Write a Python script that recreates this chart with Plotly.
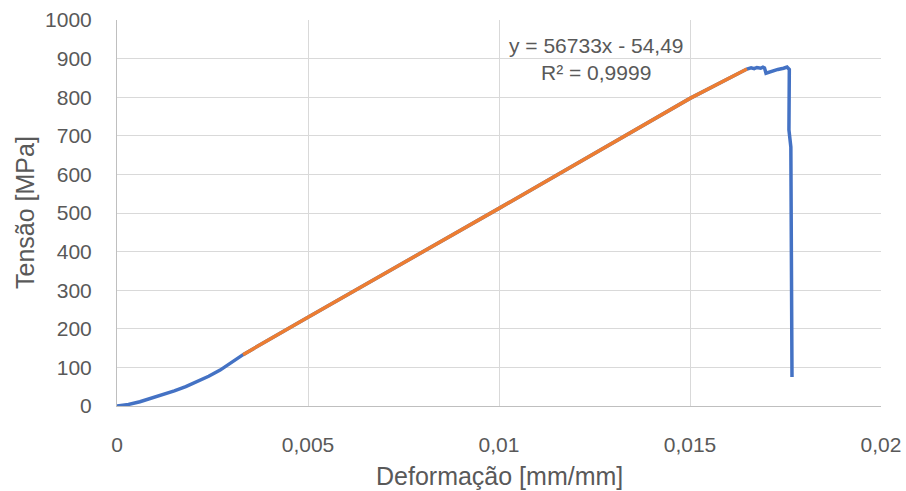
import plotly.graph_objects as go

# Full measured curve (blue)
strain = [0.0, 0.0003, 0.0006, 0.0009, 0.0012, 0.0015, 0.0018, 0.0021, 0.0024, 0.0027, 0.0030, 0.0033,
          0.0050, 0.0100, 0.0150, 0.01649, 0.01660, 0.01668, 0.01675, 0.01685, 0.01691, 0.01695,
          0.01699, 0.01710, 0.01730, 0.01745, 0.01754, 0.01760, 0.01759, 0.01764, 0.01767]
stress = [0.0, 4, 11, 20, 29, 39, 50, 63, 77, 93, 112, 133,
          230, 512, 797, 873, 876, 874, 877, 875, 878, 876,
          862, 866, 872, 875, 878, 872, 715, 671, 75]

# Linear-fit region (orange)
lin_strain = [0.0033, 0.0050, 0.0100, 0.0150, 0.01649]
lin_stress = [133, 230, 512, 797, 873]

xticks = [0, 0.005, 0.01, 0.015, 0.02]
xticklabels = ["0", "0,005", "0,01", "0,015", "0,02"]
yticks = [0, 100, 200, 300, 400, 500, 600, 700, 800, 900, 1000]
yticklabels = [str(v) for v in yticks]

eq_text = "y = 56733x - 54,49"
r2_text = "R² = 0,9999"
x_title = "Deformação [mm/mm]"
y_title = "Tensão [MPa]"

TXT = "#595959"
fig = go.Figure()
fig.add_trace(go.Scatter(x=strain, y=stress, mode="lines",
                         line=dict(color="#4472C4", width=3.5), showlegend=False))
fig.add_trace(go.Scatter(x=lin_strain, y=lin_stress, mode="lines",
                         line=dict(color="#ED7D31", width=3.5), showlegend=False))

font_family = "Liberation Sans, Arial, sans-serif"
fig.update_layout(
    width=906, height=491,
    margin=dict(l=117, r=25, t=20, b=85),
    paper_bgcolor="white", plot_bgcolor="white",
    font=dict(family=font_family, color=TXT, size=21),
    xaxis=dict(range=[0, 0.02], tickvals=xticks, ticktext=xticklabels,
               showgrid=True, gridcolor="#D9D9D9", gridwidth=1,
               showline=True, linecolor="#BFBFBF", linewidth=1,
               zeroline=False, ticks="", automargin=False, ticklabelstandoff=20,
               tickfont=dict(size=21, color=TXT)),
    yaxis=dict(range=[0, 1000], tickvals=yticks, ticktext=yticklabels,
               showgrid=True, gridcolor="#D9D9D9", gridwidth=1,
               showline=True, linecolor="#BFBFBF", linewidth=1,
               zeroline=False, ticks="", automargin=False, ticklabelstandoff=20,
               tickfont=dict(size=21, color=TXT)),
)
fig.add_annotation(x=0.01254, y=935, text=eq_text, showarrow=False,
                   font=dict(size=21, color=TXT), xanchor="center", yanchor="middle")
fig.add_annotation(x=0.01254, y=863, text=r2_text, showarrow=False,
                   font=dict(size=21, color=TXT), xanchor="center", yanchor="middle")
fig.add_annotation(x=0.5, y=0, xref="paper", yref="paper", text=x_title, showarrow=False,
                   font=dict(size=25, color=TXT), xanchor="center", yanchor="middle", yshift=-70)
fig.add_annotation(x=0, y=0.5, xref="paper", yref="paper", text=y_title, showarrow=False,
                   font=dict(size=25, color=TXT), xanchor="center", yanchor="middle",
                   xshift=-92, textangle=-90)

fig.write_html("out.html", config={"displayModeBar": False},
               post_script="document.body.style.margin='0';")
